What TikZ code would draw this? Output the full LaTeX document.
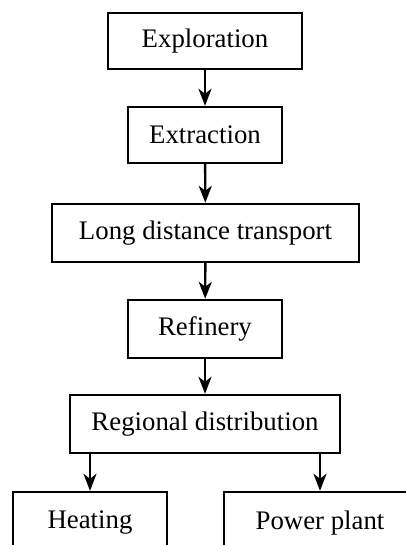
\documentclass[tikz,border=0pt]{standalone}
\usepackage{fontspec}
\setmainfont{Liberation Serif}
\usetikzlibrary{arrows.meta}
\begin{document}
\begin{tikzpicture}[x=1pt,y=-1pt,
  box/.style={draw=black,line width=2.4pt,rectangle,inner sep=0pt,font=\fontsize{26.8}{30}\selectfont},
  arr/.style={line width=2.4pt,-{Stealth[length=17pt,width=13pt,inset=5pt]}}]
\useasboundingbox (0,0) rectangle (406,545);
\clip (0,0) rectangle (406,545);
\node[box,minimum width=194pt,minimum height=56pt] (expl) at (205,41) {Exploration};
\node[box,minimum width=154pt,minimum height=56pt] (extr) at (205,135) {Extraction};
\node[box,minimum width=307pt,minimum height=58pt] (ldt) at (205.5,233) {Long distance transport};
\node[box,minimum width=154pt,minimum height=58pt] (ref) at (205,329) {Refinery};
\node[box,minimum width=270pt,minimum height=58pt] (reg) at (205,424) {Regional distribution};
\node[box,minimum width=154pt,minimum height=62pt] (heat) at (90,523) {Heating};
\node[box,minimum width=192pt,minimum height=62pt] (pow) at (320,523) {Power plant};
\draw[arr] (expl) -- (extr);
\draw[arr] (extr) -- (ldt);
\draw[arr] (ldt) -- (ref);
\draw[arr] (ref) -- (reg);
\draw[arr] (reg.south -| heat.north) -- (heat.north);
\draw[arr] (reg.south -| pow.north) -- (pow.north);
\end{tikzpicture}
\end{document}
